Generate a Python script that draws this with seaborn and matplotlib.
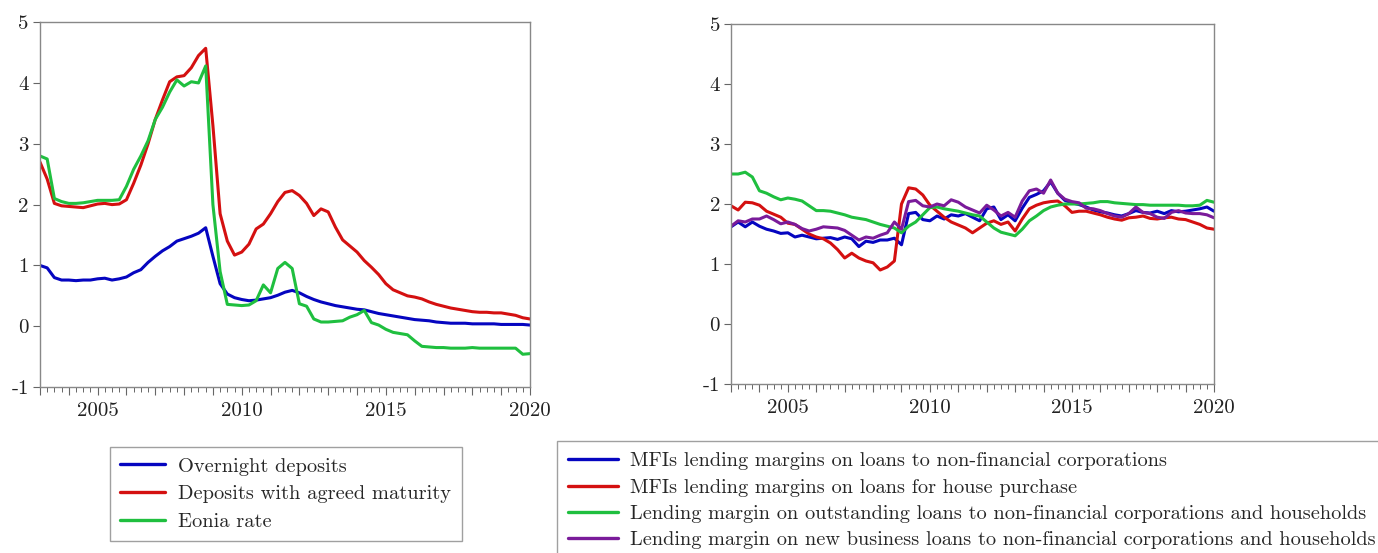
import numpy as np
import pandas as pd
import matplotlib
matplotlib.use("Agg")
import matplotlib.pyplot as plt
import seaborn as sns
from matplotlib.ticker import MultipleLocator, FuncFormatter
from matplotlib.lines import Line2D

# ---------------- data (quarterly, 2003Q1 .. 2020Q1) ----------------
dates = pd.date_range("2003-01-01", "2020-01-01", freq="QS")
t = dates.year + (dates.month - 1) / 12.0

overnight = [1.00, 0.96, 0.80, 0.76, 0.76, 0.75, 0.76, 0.76, 0.78, 0.79, 0.76, 0.78,
             0.81, 0.88, 0.93, 1.05, 1.15, 1.24, 1.31, 1.40, 1.44, 1.48, 1.53, 1.62,
             1.15, 0.70, 0.53, 0.47, 0.44, 0.42, 0.43, 0.45, 0.47, 0.51, 0.56, 0.59,
             0.55, 0.49, 0.44, 0.40, 0.37, 0.34, 0.32, 0.30, 0.28, 0.27, 0.24, 0.21,
             0.19, 0.17, 0.15, 0.13, 0.11, 0.10, 0.09, 0.07, 0.06, 0.05, 0.05, 0.05,
             0.04, 0.04, 0.04, 0.04, 0.03, 0.03, 0.03, 0.03, 0.02]
agreed = [2.70, 2.42, 2.02, 1.98, 1.97, 1.96, 1.95, 1.98, 2.01, 2.02, 2.00, 2.01,
          2.08, 2.35, 2.65, 3.00, 3.40, 3.72, 4.02, 4.10, 4.12, 4.25, 4.45, 4.57,
          3.30, 1.85, 1.40, 1.17, 1.22, 1.35, 1.60, 1.68, 1.85, 2.05, 2.20, 2.23,
          2.15, 2.02, 1.82, 1.93, 1.88, 1.63, 1.42, 1.32, 1.22, 1.08, 0.97, 0.85,
          0.70, 0.60, 0.55, 0.50, 0.48, 0.45, 0.40, 0.36, 0.33, 0.30, 0.28, 0.26,
          0.24, 0.23, 0.23, 0.22, 0.22, 0.20, 0.18, 0.14, 0.12]
eonia = [2.80, 2.75, 2.10, 2.05, 2.02, 2.02, 2.03, 2.05, 2.07, 2.07, 2.07, 2.08,
         2.30, 2.58, 2.80, 3.05, 3.40, 3.60, 3.85, 4.05, 3.95, 4.02, 4.00, 4.28,
         2.00, 0.90, 0.36, 0.35, 0.34, 0.35, 0.42, 0.68, 0.55, 0.95, 1.05, 0.95,
         0.37, 0.33, 0.12, 0.07, 0.07, 0.08, 0.09, 0.15, 0.19, 0.26, 0.06, 0.02,
         -0.05, -0.10, -0.12, -0.14, -0.24, -0.33, -0.34, -0.35, -0.35, -0.36, -0.36, -0.36,
         -0.35, -0.36, -0.36, -0.36, -0.36, -0.36, -0.36, -0.46, -0.45]

mfi_nfc = [1.62, 1.70, 1.62, 1.70, 1.63, 1.58, 1.55, 1.51, 1.52, 1.45, 1.48, 1.45,
           1.42, 1.43, 1.44, 1.41, 1.45, 1.42, 1.29, 1.38, 1.36, 1.40, 1.40, 1.43,
           1.32, 1.84, 1.86, 1.74, 1.72, 1.80, 1.75, 1.82, 1.80, 1.84, 1.78, 1.72,
           1.92, 1.95, 1.74, 1.82, 1.72, 1.93, 2.11, 2.16, 2.22, 2.37, 2.18, 2.06,
           2.02, 1.99, 1.95, 1.90, 1.87, 1.85, 1.82, 1.80, 1.84, 1.89, 1.86, 1.85,
           1.88, 1.84, 1.89, 1.87, 1.88, 1.90, 1.92, 1.95, 1.88]
mfi_house = [1.97, 1.90, 2.03, 2.02, 1.98, 1.88, 1.83, 1.78, 1.68, 1.66, 1.58, 1.50,
             1.45, 1.42, 1.35, 1.24, 1.10, 1.18, 1.10, 1.05, 1.02, 0.90, 0.95, 1.05,
             2.00, 2.27, 2.25, 2.15, 1.98, 1.88, 1.78, 1.70, 1.65, 1.60, 1.52, 1.60,
             1.68, 1.72, 1.66, 1.70, 1.55, 1.75, 1.92, 1.98, 2.02, 2.04, 2.05, 1.97,
             1.86, 1.88, 1.88, 1.85, 1.82, 1.78, 1.75, 1.73, 1.77, 1.78, 1.80, 1.76,
             1.75, 1.77, 1.78, 1.75, 1.74, 1.70, 1.66, 1.60, 1.58]
outstanding = [2.50, 2.50, 2.53, 2.45, 2.22, 2.18, 2.12, 2.07, 2.10, 2.08, 2.05, 1.97,
               1.89, 1.89, 1.88, 1.85, 1.82, 1.78, 1.76, 1.74, 1.70, 1.66, 1.63, 1.60,
               1.52, 1.63, 1.70, 1.82, 1.94, 1.95, 1.92, 1.90, 1.88, 1.85, 1.82, 1.80,
               1.70, 1.60, 1.53, 1.50, 1.47, 1.58, 1.72, 1.80, 1.89, 1.95, 1.98, 2.00,
               2.00, 2.00, 2.01, 2.02, 2.04, 2.04, 2.02, 2.01, 2.00, 1.99, 1.99, 1.98,
               1.98, 1.98, 1.98, 1.98, 1.97, 1.97, 1.98, 2.06, 2.03]
new_business = [1.63, 1.72, 1.70, 1.75, 1.75, 1.80, 1.74, 1.67, 1.70, 1.66, 1.59, 1.55,
                1.58, 1.62, 1.61, 1.60, 1.56, 1.48, 1.40, 1.45, 1.43, 1.48, 1.52, 1.70,
                1.58, 2.04, 2.06, 1.97, 1.95, 2.00, 1.97, 2.07, 2.03, 1.95, 1.90, 1.85,
                1.98, 1.90, 1.80, 1.86, 1.78, 2.05, 2.22, 2.25, 2.18, 2.40, 2.18, 2.08,
                2.04, 2.02, 1.93, 1.92, 1.89, 1.84, 1.80, 1.78, 1.84, 1.95, 1.86, 1.84,
                1.78, 1.76, 1.86, 1.89, 1.85, 1.84, 1.84, 1.82, 1.77]

left_labels = ["Overnight deposits", "Deposits with agreed maturity", "Eonia rate"]
right_labels = ["MFIs lending margins on loans to non-financial corporations",
                "MFIs lending margins on loans for house purchase",
                "Lending margin on outstanding loans to non-financial corporations and households",
                "Lending margin on new business loans to non-financial corporations and households"]

left_colors = ["#0505c0", "#d41010", "#1fbf3f"]
right_colors = ["#0505c0", "#d41010", "#1fbf3f", "#7a1b9a"]

left_df = pd.concat([pd.DataFrame({"t": t, "value": v, "series": n})
                     for n, v in zip(left_labels, [overnight, agreed, eonia])])
right_df = pd.concat([pd.DataFrame({"t": t, "value": v, "series": n})
                      for n, v in zip(right_labels, [mfi_nfc, mfi_house, outstanding, new_business])])

# ---------------- style ----------------
sns.set_style("white")
plt.rcParams["font.family"] = ["cmr10", "DejaVu Serif"]
plt.rcParams["axes.unicode_minus"] = False

fig = plt.figure(figsize=(13.78, 5.53), dpi=100)
ax1 = fig.add_axes([0.029, 0.300, 0.3556, 0.660])
ax2 = fig.add_axes([0.5305, 0.3056, 0.3505, 0.651])

for ax, df, labels, colors in [(ax1, left_df, left_labels, left_colors),
                               (ax2, right_df, right_labels, right_colors)]:
    sns.lineplot(data=df, x="t", y="value", hue="series", hue_order=labels,
                 palette=colors, linewidth=2.2, estimator=None, legend=False, ax=ax)
    ax.set_xlim(2003, 2020)
    ax.set_ylim(-1, 5)
    ax.set_xlabel("")
    ax.set_ylabel("")
    ax.yaxis.set_major_locator(MultipleLocator(1))
    ax.yaxis.set_major_formatter(FuncFormatter(lambda v, p: f"{int(round(v))}"))
    ax.xaxis.set_major_locator(MultipleLocator(1))
    ax.xaxis.set_minor_locator(MultipleLocator(0.25))
    ax.xaxis.set_major_formatter(FuncFormatter(
        lambda v, p: f"{int(round(v))}" if int(round(v)) % 5 == 0 else ""))
    ax.tick_params(axis="y", which="major", left=True, direction="out", length=5,
                   width=0.8, color="#666666", labelsize=15, pad=3, labelcolor="#222222")
    ax.tick_params(axis="x", which="major", bottom=True, direction="out", length=6,
                   width=0.8, color="#666666", labelsize=15, pad=5, labelcolor="#222222")
    ax.tick_params(axis="x", which="minor", bottom=True, direction="out", length=3.5,
                   width=0.7, color="#666666")
    for s in ax.spines.values():
        s.set_color("#888888")
        s.set_linewidth(1.0)

# ---------------- legends ----------------
h1 = [Line2D([], [], color=c, lw=2.4) for c in left_colors]
leg1 = fig.legend(h1, left_labels, loc="upper left",
                  bbox_to_anchor=(110 / 1378, 1 - 447 / 553),
                  frameon=True, fancybox=False, edgecolor="#888888",
                  fontsize=14.7, handlelength=2.2, handletextpad=0.65,
                  labelspacing=0.47, borderpad=0.5, borderaxespad=0)
leg1.get_frame().set_linewidth(1.0)

h2 = [Line2D([], [], color=c, lw=2.4) for c in right_colors]
leg2 = fig.legend(h2, right_labels, loc="upper left",
                  bbox_to_anchor=(557 / 1378, 1 - 441 / 553),
                  frameon=True, fancybox=False, edgecolor="#888888",
                  fontsize=14.6, handlelength=2.45, handletextpad=0.6,
                  labelspacing=0.40, borderpad=0.55, borderaxespad=0)
leg2.get_frame().set_linewidth(1.0)

fig.savefig("out.png", dpi=100, facecolor="white")
